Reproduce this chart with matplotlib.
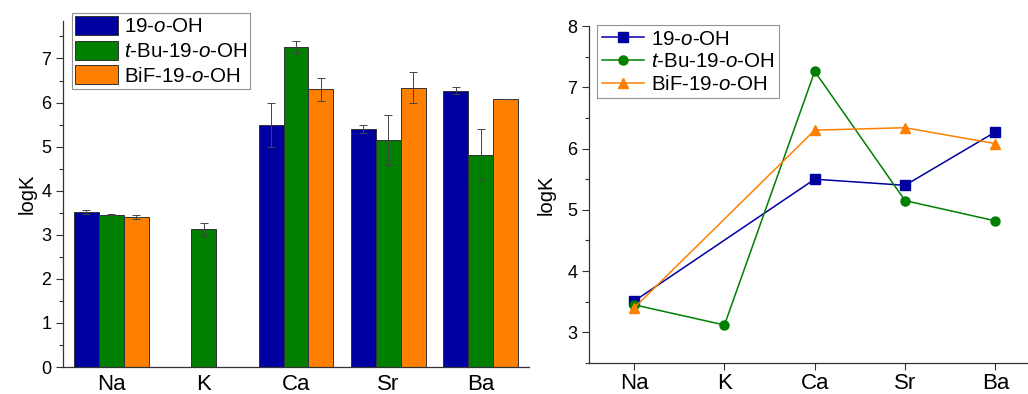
import numpy as np
import matplotlib
matplotlib.use('Agg')
import matplotlib.pyplot as plt
from matplotlib.ticker import MultipleLocator

plt.rcParams['font.family'] = ['Liberation Sans', 'DejaVu Sans']
plt.rcParams['mathtext.fontset'] = 'custom'
plt.rcParams['mathtext.rm'] = 'Liberation Sans'
plt.rcParams['mathtext.it'] = 'Liberation Sans:italic'

# data
ions = ['Na', 'K', 'Ca', 'Sr', 'Ba']
names = ['19-$\\mathit{o}$-OH', '$\\mathit{t}$-Bu-19-$\\mathit{o}$-OH', 'BiF-19-$\\mathit{o}$-OH']
logk_19 = [3.51, np.nan, 5.50, 5.40, 6.27]
logk_tbu = [3.45, 3.12, 7.26, 5.15, 4.82]
logk_bif = [3.40, np.nan, 6.30, 6.34, 6.08]
err_19 = [0.05, 0, 0.50, 0.10, 0.08]
err_tbu = [0.01, 0.15, 0.14, 0.57, 0.58]
err_bif = [0.04, 0, 0.26, 0.36, 0.01]

colors = ['#0000a0', '#007f00', '#ff8000']
markers = ['s', 'o', '^']
values = [logk_19, logk_tbu, logk_bif]
errors = [err_19, err_tbu, err_bif]

W, H = 1028, 394
fig = plt.figure(figsize=(W / 100, H / 100), dpi=100)

tick_fs = 13
cat_fs = 16
leg_fs = 14.8


def style_axes(ax):
    ax.yaxis.set_major_locator(MultipleLocator(1))
    ax.yaxis.set_minor_locator(MultipleLocator(0.5))
    ax.tick_params(axis='y', which='major', length=5, width=0.8, labelsize=tick_fs, pad=3.5, color='#333333')
    ax.tick_params(axis='y', which='minor', length=3, width=0.8, color='#333333')
    for s in ['top', 'right']:
        ax.spines[s].set_visible(False)
    for s in ['left', 'bottom']:
        ax.spines[s].set_color('#333333')
        ax.spines[s].set_linewidth(0.9)


# ---- left: bars
ax1 = fig.add_axes([63 / W, 1 - 367 / H, 466 / W, 346 / H])
x = np.arange(len(ions))
bw = 0.27
for i in range(3):
    v = np.array(values[i], dtype=float)
    ok = ~np.isnan(v)
    ax1.bar(x[ok] + (i - 1) * bw, v[ok], bw, color=colors[i], edgecolor='#333333',
            linewidth=0.7, label=names[i], zorder=2)
    ax1.errorbar(x[ok] + (i - 1) * bw, v[ok], yerr=np.array(errors[i])[ok], fmt='none',
                 ecolor='#444444', elinewidth=0.7, capsize=3, capthick=0.7, zorder=3)
ax1.set_xlim(-0.52, 4.52)
ax1.set_ylim(0, 7.85)
ax1.set_xticks(x)
ax1.set_xticklabels(ions, fontsize=cat_fs)
ax1.tick_params(axis='x', length=0, pad=5)
style_axes(ax1)
ax1.set_ylabel('logK', fontsize=14.5, labelpad=3)
leg1 = ax1.legend(loc='upper left', bbox_to_anchor=(72 / W, 1 - 13 / H),
                  bbox_transform=fig.transFigure, fontsize=leg_fs, frameon=True,
                  fancybox=False, borderaxespad=0, borderpad=0.14, handlelength=2.1,
                  handleheight=1.05, labelspacing=0.2, handletextpad=0.3)
leg1.get_frame().set_edgecolor('#777777')
leg1.get_frame().set_linewidth(0.8)

# ---- right: lines
ax2 = fig.add_axes([589 / W, 1 - 363 / H, 451.5 / W, 337 / H])
for i in range(3):
    v = np.array(values[i], dtype=float)
    ok = ~np.isnan(v)
    ax2.plot(x[ok], v[ok], color=colors[i], marker=markers[i], markersize=6.5,
             linewidth=1.1, label=names[i])
ax2.set_xlim(-0.5, 4.5)
ax2.set_ylim(2.5, 8)
ax2.set_xticks(x)
ax2.set_xticklabels(ions, fontsize=cat_fs)
ax2.tick_params(axis='x', length=5, width=0.8, pad=2, color='#333333')
style_axes(ax2)
ax2.set_ylabel('logK', fontsize=14.5, labelpad=8)
leg2 = ax2.legend(loc='upper left', bbox_to_anchor=(597 / W, 1 - 25 / H),
                  bbox_transform=fig.transFigure, fontsize=leg_fs, frameon=True,
                  fancybox=False, borderaxespad=0, borderpad=0.22, handlelength=2.05,
                  labelspacing=0.18, handletextpad=0.35)
leg2.get_frame().set_edgecolor('#777777')
leg2.get_frame().set_linewidth(0.8)

fig.savefig('out.png', dpi=100)
